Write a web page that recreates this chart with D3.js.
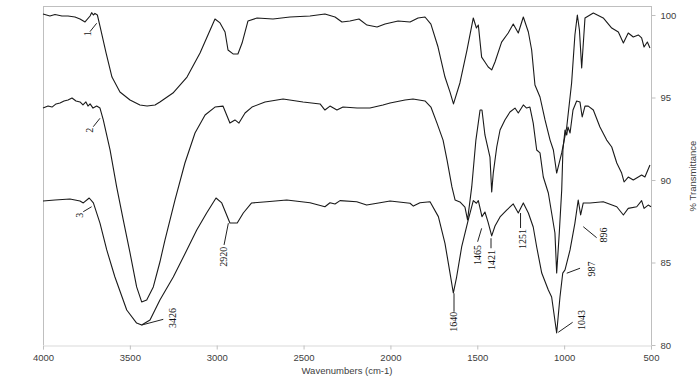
<!DOCTYPE html>
<html><head><meta charset="utf-8">
<script src="https://cdn.jsdelivr.net/npm/d3@7"></script>
<style>html,body{margin:0;padding:0;background:#fff;}svg{display:block;}</style>
</head><body>
<svg id="c" width="700" height="381"></svg>
<script>
// ---- data ----
const wn1 = [4000,3960,3931,3891,3856,3816,3787,3758,3729,3720,3710,3701,3687,3672,3637,3603,3557,3499,3442,3401,3355,3327,3252,3171,3096,3010,2981,2952,2935,2906,2878,2854,2820,2768,2676,2578,2463,2377,2319,2279,2233,2181,2135,2077,2031,1956,1887,1841,1801,1767,1726,1686,1657,1637,1600,1559,1523,1505,1494,1475,1456,1437,1417,1398,1360,1322,1293,1264,1235,1206,1187,1168,1139,1110,1081,1062,1043,1014,985,957,938,924,912,899,880,832,775,726,688,659,631,602,573,554,540,521,506];
const t1 = [100.06,99.94,100.03,99.94,99.94,99.88,99.76,99.58,99.94,100.14,100.0,100.10,100.0,99.33,97.70,96.24,95.33,94.85,94.55,94.48,94.55,94.73,95.27,96.24,97.70,99.76,99.52,98.97,97.88,97.64,97.64,98.30,99.64,99.82,99.76,99.88,99.94,100.06,99.88,99.58,99.64,99.76,99.39,99.27,99.45,99.64,99.58,99.82,99.88,99.45,98.06,96.24,95.33,94.61,95.88,97.88,99.82,99.21,99.39,97.45,97.15,96.85,96.67,97.15,98.36,98.91,99.45,98.91,99.88,98.97,97.88,95.76,95.03,93.64,92.42,91.82,90.42,91.64,93.21,95.88,98.79,100.0,99.09,96.79,99.82,100.12,99.82,99.21,98.97,98.30,98.91,98.67,98.79,98.61,98.06,98.36,98.0];

const wn2 = [4000,3971,3948,3925,3902,3879,3856,3833,3810,3787,3770,3753,3741,3729,3712,3691,3672,3653,3614,3576,3538,3499,3461,3432,3403,3365,3327,3298,3240,3183,3125,3067,3010,2964,2924,2895,2872,2837,2797,2722,2618,2503,2405,2377,2348,2308,2273,2192,2118,2043,2002,1916,1870,1801,1767,1732,1697,1674,1646,1628,1600,1571,1556,1532,1508,1484,1473,1456,1427,1417,1408,1388,1369,1341,1312,1283,1264,1235,1216,1197,1178,1158,1139,1120,1091,1072,1053,1043,1028,1014,1007,995,985,978,966,949,928,909,896,880,861,832,794,755,726,697,669,655,631,602,573,554,535,506];
const t2 = [94.36,94.48,94.42,94.61,94.67,94.79,94.85,94.97,94.79,94.73,94.55,94.73,94.48,94.61,94.36,94.48,94.36,93.64,91.82,89.58,87.58,85.58,83.52,82.61,82.73,83.52,85.03,86.36,88.79,91.03,92.85,93.94,94.42,94.48,93.45,93.64,93.45,94.06,94.42,94.73,94.91,94.73,94.61,94.24,94.48,94.24,94.42,94.36,94.36,94.55,94.67,94.85,94.91,94.79,94.42,93.45,92.42,91.21,89.58,88.79,88.67,88.36,87.58,89.58,92.42,94.24,94.24,92.73,91.39,89.27,90.42,92.0,93.03,93.64,94.12,94.36,94.06,94.55,94.36,94.42,93.45,91.82,91.64,90.18,89.21,88.0,86.79,84.36,86.79,89.39,91.82,93.03,92.73,93.21,92.85,94.24,94.79,94.73,93.82,94.48,94.48,94.24,93.21,92.42,92.0,91.03,90.42,89.88,90.18,90.0,90.18,90.30,90.18,90.91];

const wn3 = [4000,3931,3845,3787,3768,3734,3710,3672,3633,3586,3518,3461,3432,3384,3327,3250,3192,3115,3058,3004,2971,2924,2905,2882,2847,2799,2712,2597,2463,2377,2348,2319,2290,2194,2137,2060,2002,1887,1868,1830,1772,1724,1686,1657,1638,1619,1590,1552,1523,1505,1494,1473,1456,1438,1417,1398,1369,1331,1293,1264,1235,1206,1178,1158,1129,1091,1072,1043,1024,1008,995,966,938,919,905,890,851,775,697,659,631,582,554,540,516,500];
const t3 = [88.73,88.79,88.85,88.73,88.61,88.91,88.61,87.39,85.76,84.12,82.12,81.33,81.21,81.52,82.73,84.12,85.33,86.97,88.0,88.91,88.61,87.39,87.39,87.39,88.0,88.61,88.68,88.79,88.62,88.38,88.62,88.55,88.75,88.68,88.48,88.62,88.73,88.59,88.42,88.62,88.68,87.78,86.16,84.36,83.15,84.12,85.94,87.58,88.75,88.59,88.75,87.78,88.06,87.45,86.61,87.21,87.76,88.18,88.55,88.0,88.61,88.0,87.15,85.94,84.36,83.33,82.91,80.73,82.91,84.36,84.55,85.76,87.39,88.79,87.88,88.61,88.61,88.68,88.38,87.88,88.28,88.38,88.75,88.28,88.48,88.38];

const xTicks = [4000,3500,3000,2500,2000,1500,1000,500];
const yTicks = [80,85,90,95,100];
const xTitle = "Wavenumbers (cm-1)";
const yTitle = "% Transmittance";

// annotation texts and the spectrum point each one marks (wavenumber, %T)
const annText = ["1","2","3","3426","2920","1640","1465","1421","1251","987","896","1043"];
const annWn   = [3691,3672,3720,3432,2933,1634,1475,1421,1251,985,890,1034];
const annT    = [99.5,93.74,88.38,81.21,87.38,83.13,87.07,86.47,88.0,84.35,87.17,80.77];

// ---- layout ----
const svg = d3.select("#c");
const L = 43, R = 651, T0 = 6, B = 345;
const x = d3.scaleLinear().domain([4000,500]).range([L,R]);
const y = d3.scaleLinear().domain([80,100]).range([B,15]);

// plot frame
svg.append("line").attr("x1",L+0.5).attr("x2",L+0.5).attr("y1",T0).attr("y2",B).attr("stroke","#bfbfbf").attr("stroke-width",1);
svg.append("line").attr("x1",L).attr("x2",R).attr("y1",T0+0.5).attr("y2",T0+0.5).attr("stroke","#bfbfbf").attr("stroke-width",1);

// x axis
const xa = svg.append("g").attr("transform",`translate(0,${B+0.5})`)
  .call(d3.axisBottom(x).tickValues(xTicks).tickSize(4).tickPadding(5).tickFormat(d3.format("d")));
xa.select(".domain").attr("stroke","#d9d9d9");
xa.selectAll(".tick line").attr("stroke","#bfbfbf");
xa.selectAll("text").attr("font-family","'Liberation Sans',Arial,sans-serif").attr("font-size","9.5px").attr("fill","#404040");

// y axis on right
const ya = svg.append("g").attr("transform",`translate(${R+0.5},0)`)
  .call(d3.axisRight(y).tickValues(yTicks).tickSize(4).tickPadding(5));
ya.select(".domain").attr("stroke","#bfbfbf").attr("d",`M0,${T0}V${B}`);
ya.selectAll(".tick line").attr("stroke","#bfbfbf");
ya.selectAll("text").attr("font-family","'Liberation Sans',Arial,sans-serif").attr("font-size","9.5px").attr("fill","#404040");

// titles
svg.append("text").attr("x",347).attr("y",374).attr("text-anchor","middle")
  .attr("font-family","'Liberation Sans',Arial,sans-serif").attr("font-size","9.5px").attr("fill","#404040").text(xTitle);
svg.append("text").attr("transform","translate(692,176) rotate(-90)").attr("text-anchor","middle").attr("dominant-baseline","central")
  .attr("font-family","'Liberation Sans',Arial,sans-serif").attr("font-size","9.5px").attr("fill","#404040").text(yTitle);

// spectra
const line = d3.line().x(d=>x(d[0])).y(d=>y(d[1]));
[[wn1,t1],[wn2,t2],[wn3,t3]].forEach(([w,t])=>{
  svg.append("path").datum(d3.zip(w,t)).attr("d",line)
    .attr("fill","none").attr("stroke","#1a1a1a").attr("stroke-width",1.1).attr("stroke-linejoin","round");
});

// annotation leader offsets (px) and label offsets (px)
const leadDx = [-6.7,-6.7,-8.4,21.6,-4.3,0,-4,0,0,13.3,13.4,14.4];
const leadDy = [8.4,8.4,5,-5.7,21.7,18.4,13.4,10,15,-5,11,-10];
const labDx  = [-9.5,-10,-12,31,-5,-0.7,-4,0,2,25,20.7,23.4];
const labDy  = [10.5,12,8.5,-7,33.4,28.4,26.7,21.7,26,-4.3,8.3,-12.3];

annText.forEach((s,i)=>{
  const px = x(annWn[i]), py = y(annT[i]);
  svg.append("line").attr("x1",px).attr("y1",py).attr("x2",px+leadDx[i]).attr("y2",py+leadDy[i])
    .attr("stroke","#222").attr("stroke-width",1);
  svg.append("text").attr("transform",`translate(${px+labDx[i]},${py+labDy[i]}) rotate(-90)`)
    .attr("text-anchor","middle").attr("dominant-baseline","central")
    .attr("font-family","'Liberation Serif','Times New Roman',serif").attr("font-size","10px").attr("fill","#111").text(s);
});
</script>
</body></html>
